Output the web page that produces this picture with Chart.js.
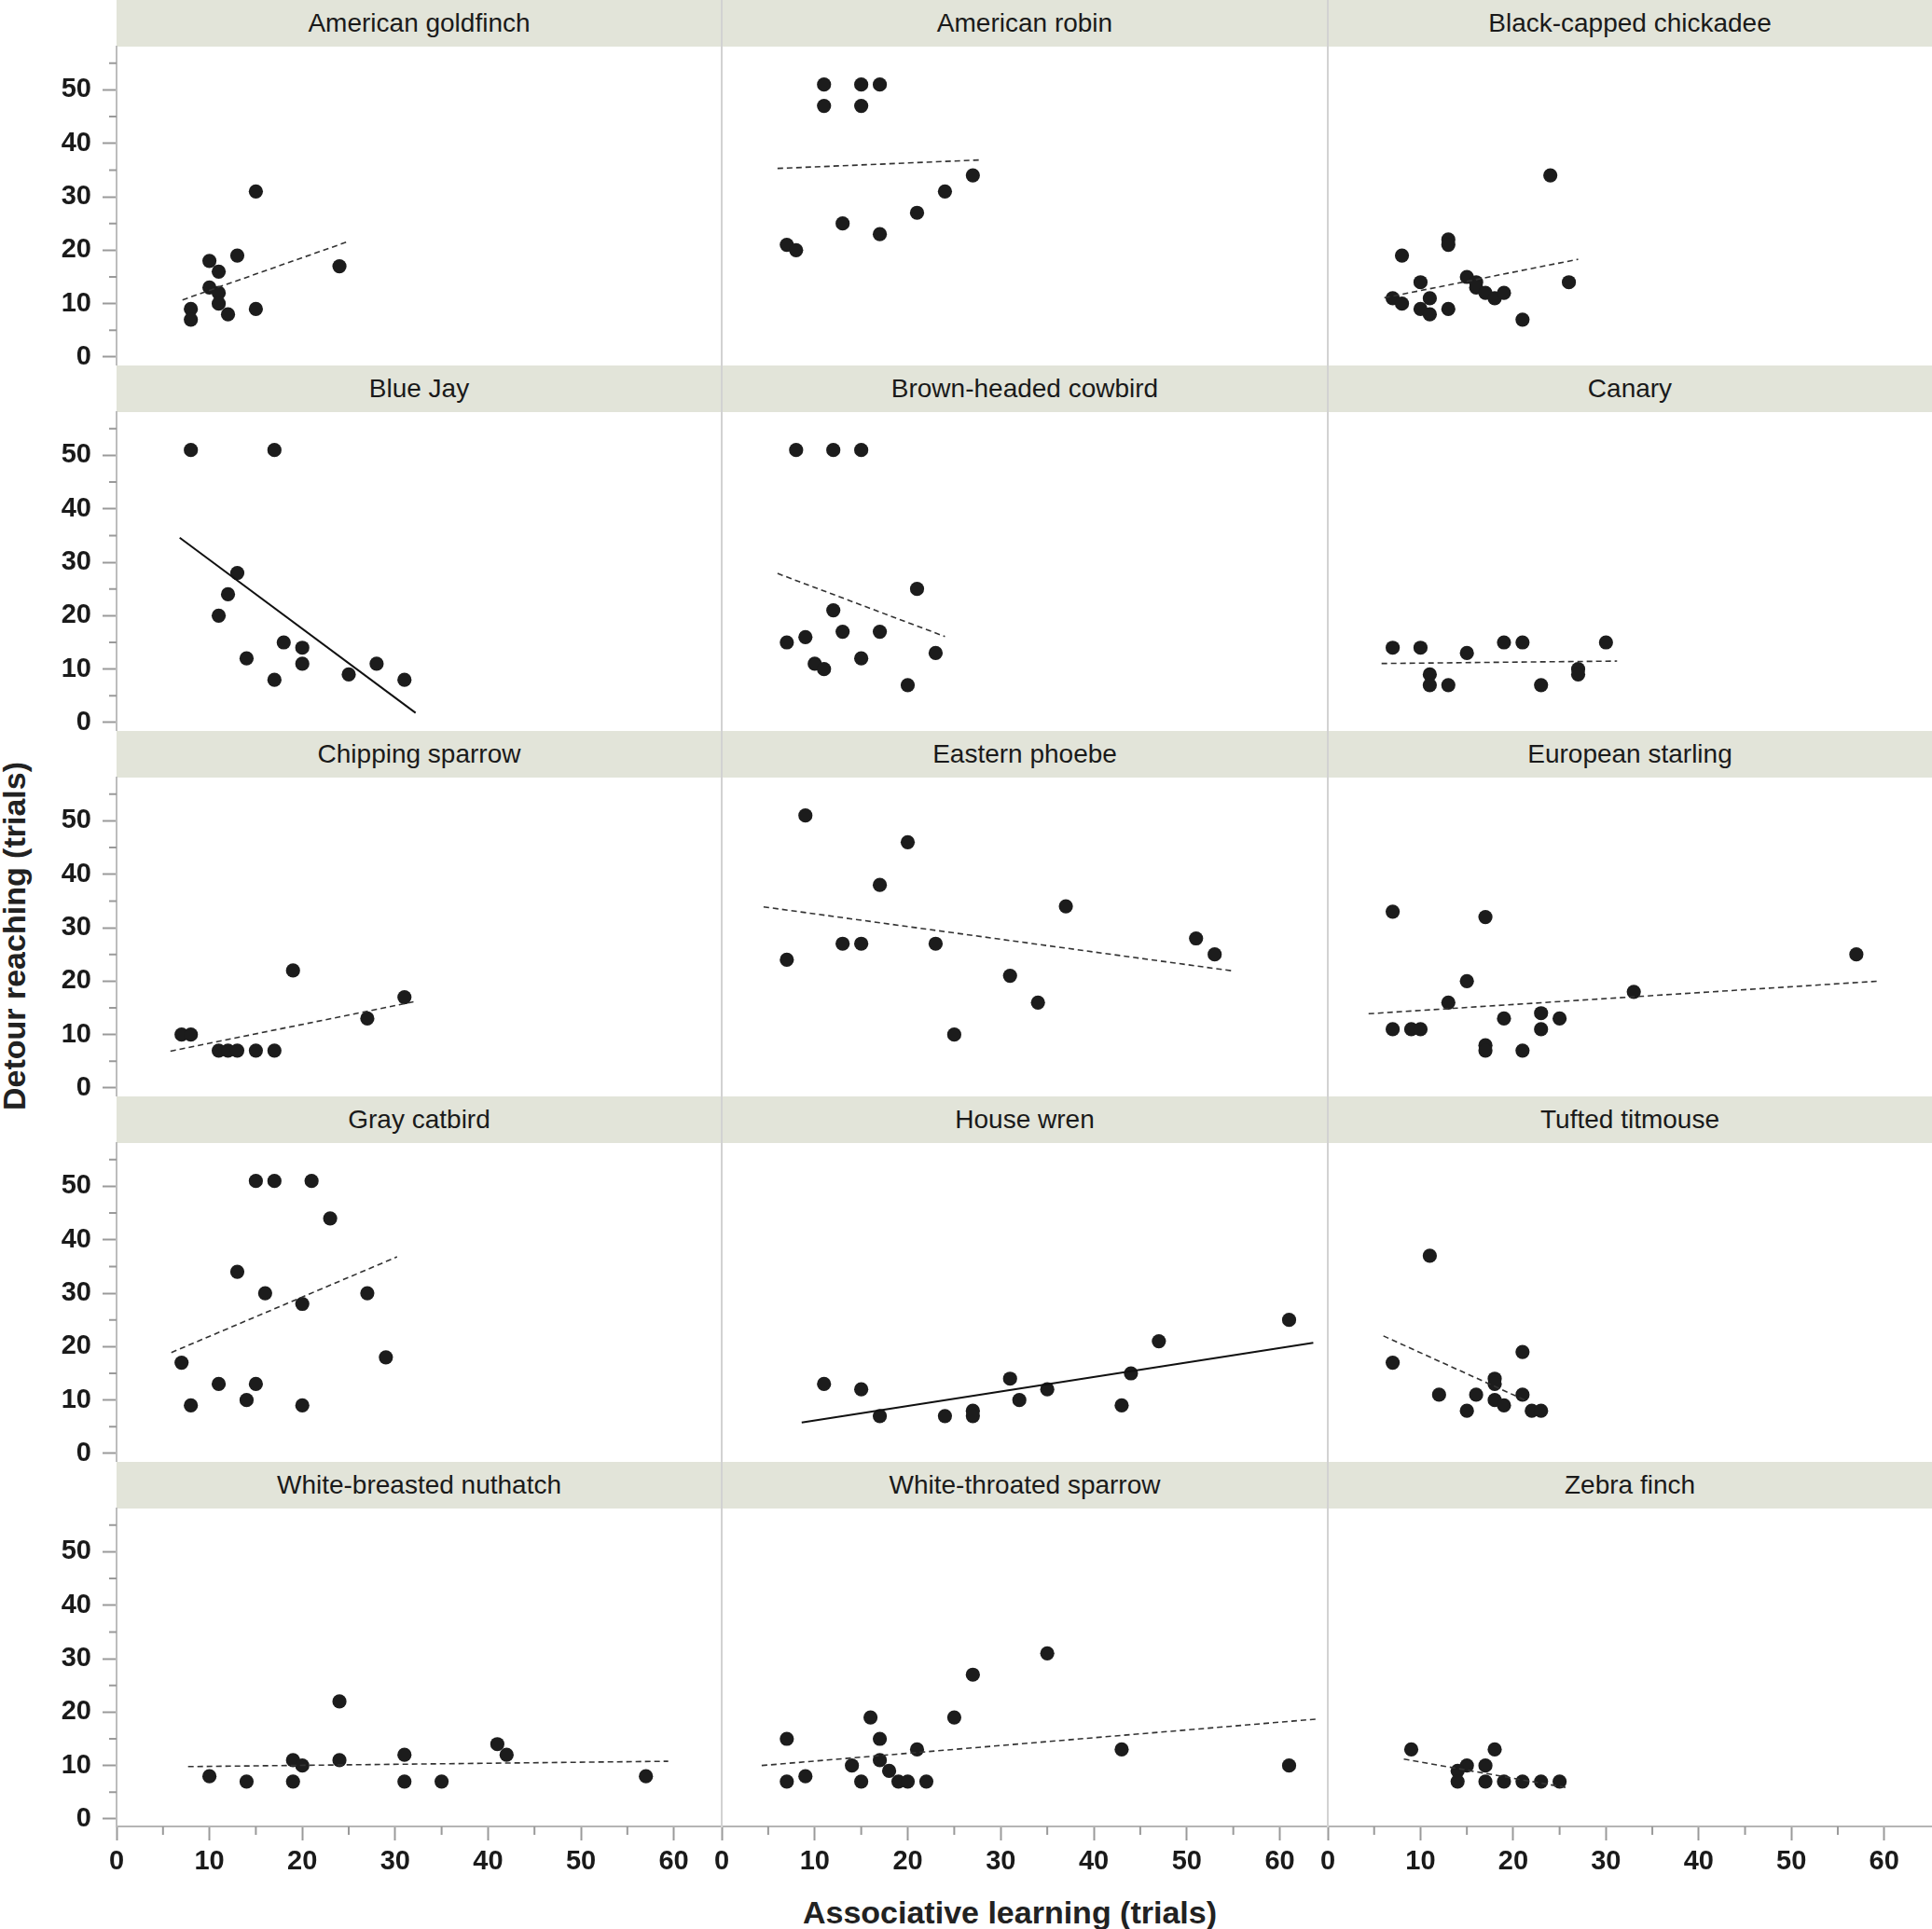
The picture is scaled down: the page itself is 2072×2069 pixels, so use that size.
<!DOCTYPE html>
<html>
<head>
<meta charset="utf-8">
<script src="https://cdn.jsdelivr.net/npm/chart.js@4.4.1/dist/chart.umd.min.js"></script>
<style>
  html, body { margin: 0; padding: 0; background: #fff; overflow: hidden; }
  body { width: 2072px; height: 2069px; position: relative; font-family: "Liberation Sans", Arial, sans-serif; }
  .strip { position: absolute; height: 50px; line-height: 50px; background: #e2e4d9; text-align: center; font-size: 28px; color: #1a1a1a; }
  .sep { position: absolute; top: 0; width: 2px; height: 1960px; background: #d2d2d2; z-index: 3; }
  canvas { position: absolute; z-index: 2; }
  .title { position: absolute; font-family: "Liberation Sans Narrow", "Liberation Sans", Arial, sans-serif; font-weight: bold; font-size: 34px; color: #222; text-align: center; white-space: nowrap; height: 40px; line-height: 40px; }
</style>
</head>
<body>
<div class="title" style="left:583px; top:2031px; width:1000px;">Associative learning (trials)</div>
<div class="title" style="left:-285px; top:984px; width:600px; transform:rotate(-90deg);">Detour reaching (trials)</div>
<div class="sep" style="left:773px;"></div>
<div class="sep" style="left:1423px;"></div>
<script>
// tick values shared by every panel
var xTicks = [0, 10, 20, 30, 40, 50, 60];
var xMinor = [5, 15, 25, 35, 45, 55];
var yTicks = [0, 10, 20, 30, 40, 50];
var yMinor = [5, 15, 25, 35, 45, 55];

// American goldfinch
var goldfinchX = [15, 10, 13, 11, 10, 11, 11, 12, 8, 8, 15, 24];
var goldfinchY = [31, 18, 19, 16, 13, 12, 10, 8, 9, 7, 9, 17];
var goldfinchFitX = [7.1, 24.9];
var goldfinchFitY = [10.7, 21.6];

// American robin
var robinX = [11, 11, 15, 15, 17, 7, 8, 13, 17, 21, 24, 27];
var robinY = [51, 47, 51, 47, 51, 21, 20, 25, 23, 27, 31, 34];
var robinFitX = [6, 28];
var robinFitY = [35.3, 36.9];

// Black-capped chickadee
var chickadeeX = [24, 13, 13, 8, 10, 7, 8, 11, 10, 11, 13, 15, 16, 16, 17, 18, 19, 21, 26];
var chickadeeY = [34, 22, 21, 19, 14, 11, 10, 11, 9, 8, 9, 15, 14, 13, 12, 11, 12, 7, 14];
var chickadeeFitX = [6.1, 27.0];
var chickadeeFitY = [11.1, 18.3];

// Blue Jay
var blueJayX = [8, 17, 13, 12, 11, 14, 18, 20, 20, 17, 25, 28, 31];
var blueJayY = [51, 51, 28, 24, 20, 12, 15, 14, 11, 8, 9, 11, 8];
var blueJayFitX = [6.8, 32.2];
var blueJayFitY = [34.6, 1.8];

// Brown-headed cowbird
var cowbirdX = [8, 12, 15, 21, 12, 7, 9, 13, 17, 15, 10, 11, 20, 23];
var cowbirdY = [51, 51, 51, 25, 21, 15, 16, 17, 17, 12, 11, 10, 7, 13];
var cowbirdFitX = [6, 24];
var cowbirdFitY = [27.9, 16.1];

// Canary
var canaryX = [7, 10, 15, 19, 21, 30, 11, 11, 13, 23, 27, 27];
var canaryY = [14, 14, 13, 15, 15, 15, 9, 7, 7, 7, 10, 9];
var canaryFitX = [5.8, 31.2];
var canaryFitY = [11.05, 11.5];

// Chipping sparrow
var chippingX = [19, 31, 27, 7, 8, 11, 12, 13, 15, 17];
var chippingY = [22, 17, 13, 10, 10, 7, 7, 7, 7, 7];
var chippingFitX = [5.8, 32.2];
var chippingFitY = [6.9, 16.2];

// Eastern phoebe
var phoebeX = [9, 20, 17, 37, 7, 13, 15, 23, 51, 53, 31, 34, 25];
var phoebeY = [51, 46, 38, 34, 24, 27, 27, 27, 28, 25, 21, 16, 10];
var phoebeFitX = [4.5, 55];
var phoebeFitY = [33.9, 21.9];

// European starling
var starlingX = [7, 17, 15, 13, 33, 7, 9, 10, 19, 23, 25, 23, 17, 17, 21, 57];
var starlingY = [33, 32, 20, 16, 18, 11, 11, 11, 13, 14, 13, 11, 8, 7, 7, 25];
var starlingFitX = [4.4, 59.4];
var starlingFitY = [13.9, 20.0];

// Gray catbird
var catbirdX = [15, 17, 21, 23, 13, 16, 27, 20, 7, 29, 11, 15, 14, 8, 20];
var catbirdY = [51, 51, 51, 44, 34, 30, 30, 28, 17, 18, 13, 13, 10, 9, 9];
var catbirdFitX = [5.9, 30.2];
var catbirdFitY = [18.9, 36.8];

// House wren
var wrenX = [61, 47, 11, 15, 17, 24, 27, 27, 31, 32, 35, 43, 44];
var wrenY = [25, 21, 13, 12, 7, 7, 8, 7, 14, 10, 12, 9, 15];
var wrenFitX = [8.6, 63.6];
var wrenFitY = [5.8, 20.7];

// Tufted titmouse
var titmouseX = [11, 7, 21, 12, 15, 16, 18, 18, 18, 19, 21, 22, 23];
var titmouseY = [37, 17, 19, 11, 8, 11, 14, 13, 10, 9, 11, 8, 8];
var titmouseFitX = [6.0, 21.5];
var titmouseFitY = [22.0, 9.8];

// White-breasted nuthatch
var nuthatchX = [24, 10, 14, 19, 20, 19, 24, 31, 31, 35, 41, 42, 57];
var nuthatchY = [22, 8, 7, 11, 10, 7, 11, 12, 7, 7, 14, 12, 8];
var nuthatchFitX = [7.7, 59.4];
var nuthatchFitY = [9.8, 10.8];

// White-throated sparrow
var throatedX = [35, 27, 16, 25, 7, 17, 21, 43, 17, 14, 18, 61, 9, 7, 15, 19, 20, 22];
var throatedY = [31, 27, 19, 19, 15, 15, 13, 13, 11, 10, 9, 10, 8, 7, 7, 7, 7, 7];
var throatedFitX = [4.3, 64];
var throatedFitY = [10, 18.7];

// Zebra finch
var zebraX = [9, 18, 15, 17, 14, 14, 17, 19, 21, 23, 25];
var zebraY = [13, 13, 10, 10, 9, 7, 7, 7, 7, 7, 7];
var zebraFitX = [8.2, 26];
var zebraFitY = [11.2, 5.8];

var panels = [
  ['American goldfinch', goldfinchX, goldfinchY, goldfinchFitX, goldfinchFitY, false],
  ['American robin', robinX, robinY, robinFitX, robinFitY, false],
  ['Black-capped chickadee', chickadeeX, chickadeeY, chickadeeFitX, chickadeeFitY, false],
  ['Blue Jay', blueJayX, blueJayY, blueJayFitX, blueJayFitY, true],
  ['Brown-headed cowbird', cowbirdX, cowbirdY, cowbirdFitX, cowbirdFitY, false],
  ['Canary', canaryX, canaryY, canaryFitX, canaryFitY, false],
  ['Chipping sparrow', chippingX, chippingY, chippingFitX, chippingFitY, false],
  ['Eastern phoebe', phoebeX, phoebeY, phoebeFitX, phoebeFitY, false],
  ['European starling', starlingX, starlingY, starlingFitX, starlingFitY, false],
  ['Gray catbird', catbirdX, catbirdY, catbirdFitX, catbirdFitY, false],
  ['House wren', wrenX, wrenY, wrenFitX, wrenFitY, true],
  ['Tufted titmouse', titmouseX, titmouseY, titmouseFitX, titmouseFitY, false],
  ['White-breasted nuthatch', nuthatchX, nuthatchY, nuthatchFitX, nuthatchFitY, false],
  ['White-throated sparrow', throatedX, throatedY, throatedFitX, throatedFitY, false],
  ['Zebra finch', zebraX, zebraY, zebraFitX, zebraFitY, false]
];

var colLeft = [125, 774, 1424];
var colWidth = [649, 650, 648];
var rowPitch = 392, stripH = 50, plotH = 341;
var extraRight = 9; // chart.js trims a few px off the right of the plot area
var tickGray = '#9a9a9a';

Chart.defaults.font.family = '"Liberation Sans", Arial, sans-serif';

// short ticks halfway between the labelled ones
var minorTicks = {
  id: 'minorTicks',
  afterDraw: function(chart, args, opts) {
    var ctx = chart.ctx, a = chart.chartArea;
    ctx.save();
    ctx.strokeStyle = tickGray;
    ctx.lineWidth = 2;
    ctx.beginPath();
    if (opts.y) {
      yMinor.forEach(function(v) {
        var p = chart.scales.y.getPixelForValue(v);
        ctx.moveTo(a.left - 8, p); ctx.lineTo(a.left, p);
      });
    }
    if (opts.x) {
      xMinor.forEach(function(v) {
        var p = chart.scales.x.getPixelForValue(v);
        ctx.moveTo(p, a.bottom); ctx.lineTo(p, a.bottom + 9);
      });
    }
    ctx.stroke();
    ctx.restore();
  }
};

panels.forEach(function(p, i) {
  var c = i % 3, r = Math.floor(i / 3);
  var lastRow = r === 4, firstCol = c === 0;

  var strip = document.createElement('div');
  strip.className = 'strip';
  strip.style.left = colLeft[c] + 'px';
  strip.style.top = (r * rowPitch) + 'px';
  strip.style.width = colWidth[c] + 'px';
  strip.textContent = p[0];
  document.body.appendChild(strip);

  var padL = firstCol ? 0 : 30;
  var padT = 20;
  var padB = lastRow ? 0 : 20;
  var axisW = firstCol ? 125 : 0;
  var axisH = lastRow ? 110 : 0;

  var cv = document.createElement('canvas');
  var w = (firstCol ? colLeft[c] + colWidth[c] : 30 + colWidth[c]) + extraRight;
  var h = padT + plotH + padB + axisH;
  cv.width = w; cv.height = h;
  cv.style.width = w + 'px'; cv.style.height = h + 'px';
  cv.style.left = (firstCol ? 0 : colLeft[c] - 30) + 'px';
  cv.style.top = (r * rowPitch + stripH - padT) + 'px';
  document.body.appendChild(cv);

  var pts = p[1].map(function(x, k) { return { x: x, y: p[2][k] }; });
  var fit = p[3].map(function(x, k) { return { x: x, y: p[4][k] }; });

  new Chart(cv.getContext('2d'), {
    type: 'scatter',
    data: {
      datasets: [{
        data: fit,
        showLine: true,
        pointRadius: 0,
        borderColor: p[5] ? '#111' : '#333',
        borderWidth: p[5] ? 2 : 1.6,
        borderDash: p[5] ? [] : [6, 4],
        fill: false
      }, {
        data: pts,
        pointRadius: 7.6,
        pointHoverRadius: 7.6,
        pointBackgroundColor: '#1c1c1c',
        pointBorderWidth: 0,
        showLine: false
      }]
    },
    options: {
      responsive: false,
      animation: false,
      devicePixelRatio: 1,
      events: [],
      layout: { padding: { left: padL, top: padT, bottom: padB, right: 0 } },
      plugins: {
        legend: { display: false },
        tooltip: { enabled: false },
        minorTicks: { x: lastRow, y: firstCol }
      },
      scales: {
        x: {
          type: 'linear',
          min: 0, max: 65.3,
          display: lastRow,
          afterBuildTicks: function(s) { s.ticks = xTicks.map(function(v) { return { value: v }; }); },
          afterFit: function(s) { s.height = axisH; s.paddingLeft = 0; s.paddingRight = 0; },
          grid: { drawOnChartArea: false, drawTicks: true, tickLength: 15, tickColor: tickGray, tickWidth: 2 },
          border: { display: true, color: '#b5b5b5', width: 2 },
          ticks: { font: { size: 29, weight: 'bold' }, color: '#1a1a1a', padding: 6, maxRotation: 0, autoSkip: false }
        },
        y: {
          type: 'linear',
          min: -1.4, max: 58.1,
          display: firstCol,
          afterBuildTicks: function(s) { s.ticks = yTicks.map(function(v) { return { value: v }; }); },
          afterFit: function(s) { s.width = axisW; s.paddingTop = 0; s.paddingBottom = 0; },
          grid: { drawOnChartArea: false, drawTicks: true, tickLength: 15, tickColor: tickGray, tickWidth: 2 },
          border: { display: true, color: '#bdbdbd', width: 2 },
          ticks: { font: { size: 29, weight: 'bold' }, color: '#1a1a1a', padding: 12 }
        }
      }
    },
    plugins: [minorTicks]
  });
});
</script>
</body>
</html>
